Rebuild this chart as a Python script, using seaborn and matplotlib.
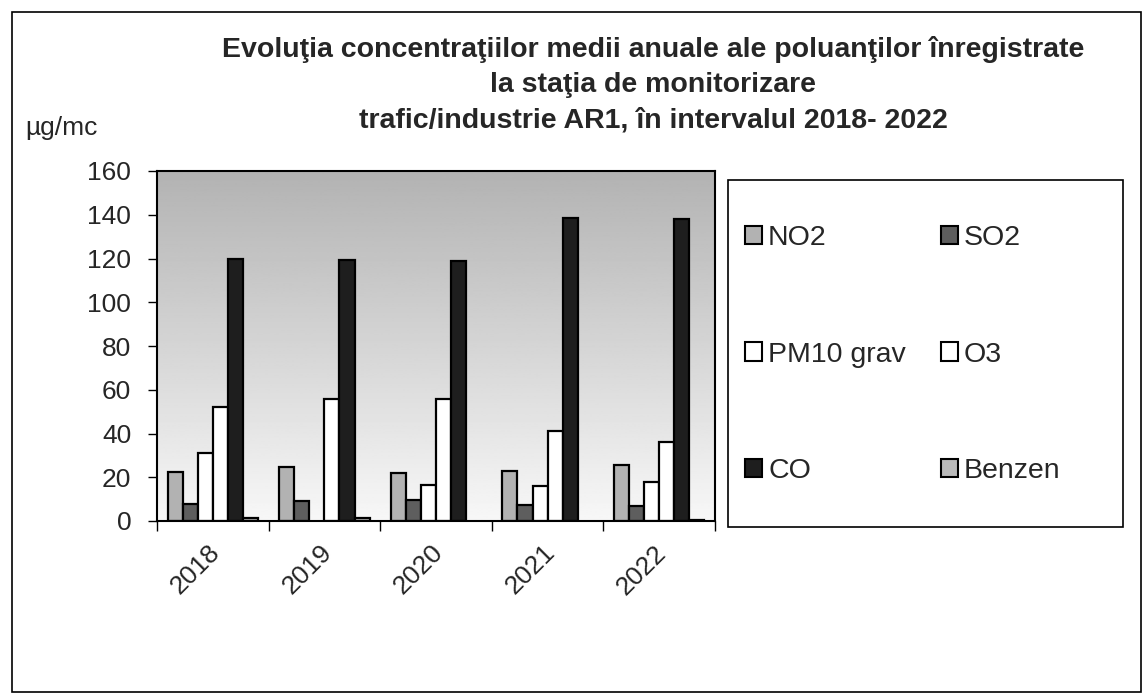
import numpy as np
import pandas as pd
import matplotlib
matplotlib.use("Agg")
import matplotlib.pyplot as plt
import matplotlib.transforms as mtransforms
from matplotlib.patches import Rectangle
import seaborn as sns

years = ["2018", "2019", "2020", "2021", "2022"]
pollutants = ["NO2", "SO2", "PM10 grav", "O3", "CO", "Benzen"]
no2 = [22.4, 24.8, 21.9, 22.8, 25.6]
so2 = [7.8, 9.1, 9.6, 7.3, 6.8]
pm10 = [31.2, np.nan, 16.4, 15.8, 17.9]
o3 = [52.0, 55.8, 55.8, 41.2, 36.2]
co = [119.6, 119.5, 118.9, 138.7, 138.2]
benzen = [1.5, 1.5, np.nan, np.nan, 0.6]
title_lines = ["Evoluţia concentraţiilor medii anuale ale poluanţilor înregistrate",
               "la staţia de monitorizare",
               "trafic/industrie AR1, în intervalul 2018- 2022"]
y_unit = "µg/mc"
y_ticks = [0, 20, 40, 60, 80, 100, 120, 140, 160]

series = [no2, so2, pm10, o3, co, benzen]
rows = []
for name, vals in zip(pollutants, series):
    for yr, v in zip(years, vals):
        if not np.isnan(v):
            rows.append({"year": yr, "pollutant": name, "value": v})
df = pd.DataFrame(rows)

colors = ["#b2b2b2", "#5e5e5e", "#ffffff", "#ffffff", "#1e1e1e", "#bababa"]
palette = dict(zip(pollutants, colors))

sns.set_theme(style="white")
plt.rcParams['font.family'] = ['Liberation Sans', 'DejaVu Sans']

W, H = 1143, 696
fig = plt.figure(figsize=(W / 100, H / 100), dpi=100)
fig.patch.set_facecolor("white")

ax = fig.add_axes([157 / W, 1 - 521 / H, (715 - 157) / W, (521 - 171) / H])

# gradient background
grad = np.linspace(0.70, 0.97, 256).reshape(-1, 1)
ax.imshow(grad, cmap="gray", vmin=0, vmax=1, aspect="auto",
          extent=[-0.5, len(years) - 0.5, 0, 160], origin="upper", zorder=0)

sns.barplot(data=df, x="year", y="value", hue="pollutant", order=years,
            hue_order=pollutants, palette=palette, width=0.81, dodge=True,
            edgecolor="black", linewidth=1.6, saturation=1, ax=ax, zorder=2,
            errorbar=None)

ax.set_xlim(-0.5, len(years) - 0.5)
ax.set_ylim(0, 160)
ax.set_yticks(y_ticks)
ax.set_yticklabels([str(t) for t in y_ticks], fontsize=19)
ax.tick_params(axis="y", left=True, length=6.5, width=1, color="black", pad=12)
ax.set_xticks(range(len(years)))
ax.set_xticklabels(years, rotation=45, fontsize=19, ha="right", rotation_mode="anchor")
ax.tick_params(axis="x", which="major", bottom=False, length=0, pad=14)
ax.set_xticks(np.arange(-0.5, len(years)), minor=True)
ax.tick_params(axis="x", which="minor", bottom=True, length=7.5, width=1, color="black")
shift = mtransforms.ScaledTranslation(-5 / 100, 0, fig.dpi_scale_trans)
for lbl in ax.get_xticklabels():
    lbl.set_transform(lbl.get_transform() + shift)
ax.set_xlabel("")
ax.set_ylabel("")
for s in ax.spines.values():
    s.set_visible(True)
    s.set_color("black")
    s.set_linewidth(1.5)

# legend
handles, labels = ax.get_legend_handles_labels()
ax.get_legend().remove()
hmap = dict(zip(labels, handles))
order = ["NO2", "PM10 grav", "CO", "SO2", "O3", "Benzen"]
leg = fig.legend([hmap[k] for k in order], order, ncol=2, loc="upper left",
                 bbox_to_anchor=(745 / W, 1 - 225 / H), frameon=False,
                 fontsize=20.5, handlelength=0.6, handleheight=0.6,
                 handletextpad=0.21, labelspacing=3.18, columnspacing=1.23,
                 borderpad=0, borderaxespad=0)
for h in leg.legend_handles:
    h.set_linewidth(1.5)
    h.set_edgecolor("black")

fig.patches.append(Rectangle((728 / W, 1 - 527 / H), 395 / W, 347 / H,
                             transform=fig.transFigure, fill=False,
                             edgecolor="black", linewidth=1.2))
fig.patches.append(Rectangle((12 / W, 1 - 692 / H), 1129 / W, 680 / H,
                             transform=fig.transFigure, fill=False,
                             edgecolor="black", linewidth=1.2))

for line, base in zip(title_lines, [57, 92, 127]):
    fig.text(653 / W, 1 - base / H, line, ha="center", va="baseline",
             fontsize=20.5, fontweight="bold")
fig.text(25 / W, 1 - 135 / H, y_unit, ha="left", va="baseline", fontsize=19)

fig.savefig("out.png", dpi=100)
